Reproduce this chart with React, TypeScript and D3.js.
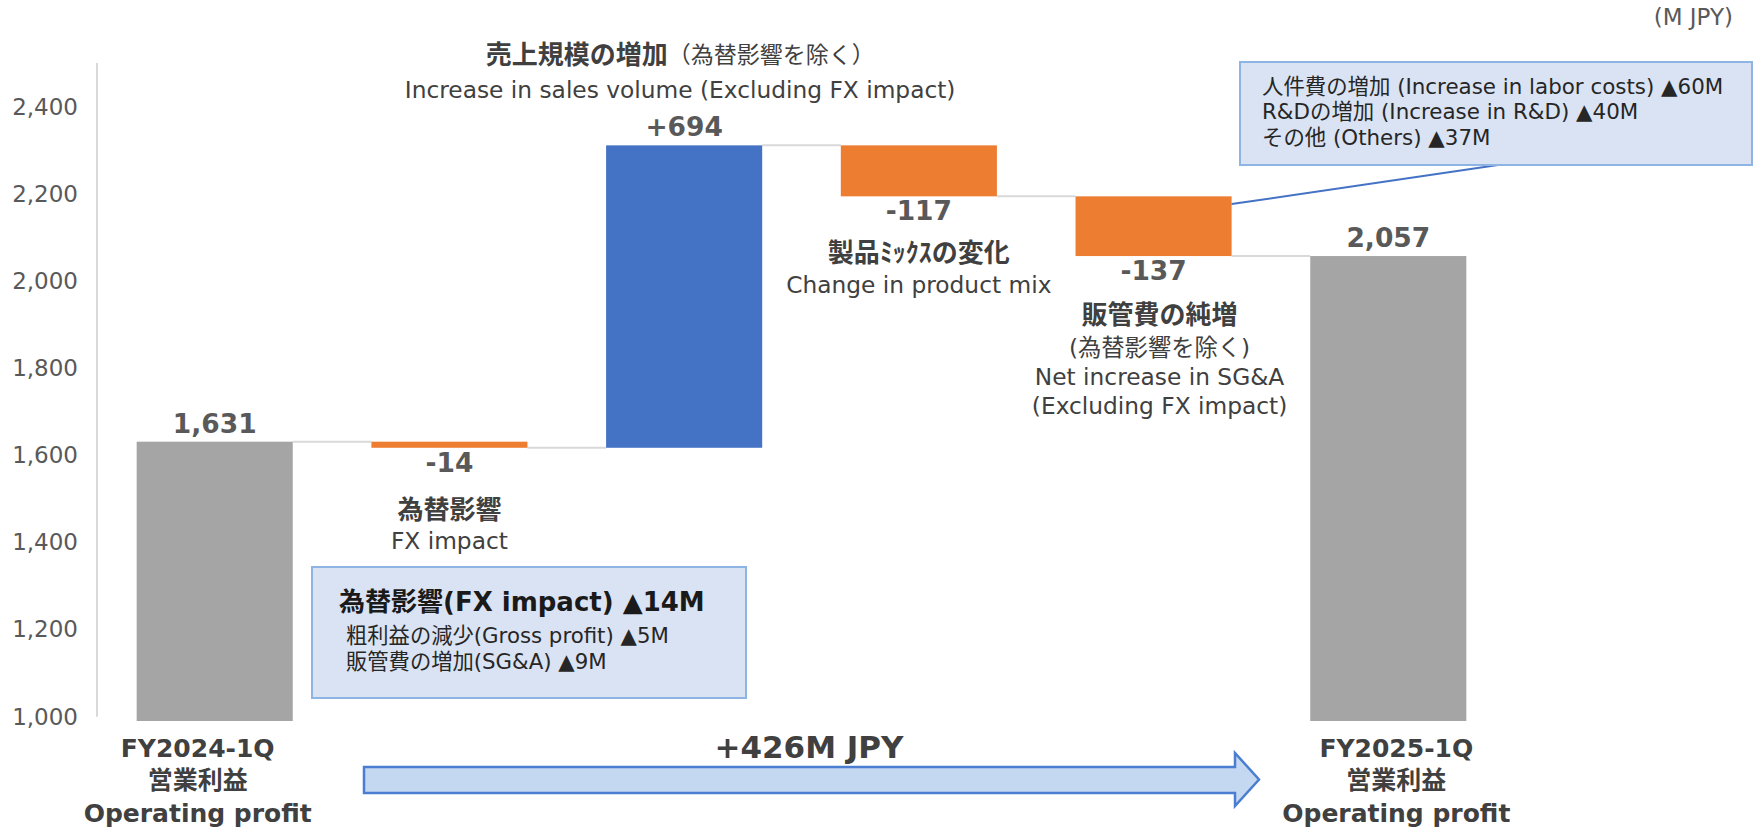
import React from "react";
import * as d3 from "d3";

const W = 1754;
const H = 829;
const FONT = "'DejaVu Sans', 'Noto Sans CJK JP', sans-serif";

// waterfall data (M JPY)
const categories = ["FY2024-1Q", "fx", "volume", "mix", "sga", "FY2025-1Q"];
const values = [1631, -14, 694, -117, -137, 2057];
const isTotal = [true, false, false, false, false, true];
const yTicks = [1000, 1200, 1400, 1600, 1800, 2000, 2200, 2400];

// text content
const unitLabel = "(M JPY)";
const changeLabel = "+426M JPY";
const startLabel = ["FY2024-1Q", "営業利益", "Operating profit"];
const endLabel = ["FY2025-1Q", "営業利益", "Operating profit"];
const volumeNote = ["売上規模の増加", "（為替影響を除く）", "Increase in sales volume (Excluding FX impact)"];
const fxNote = ["為替影響", "FX impact"];
const mixNote = ["製品ﾐｯｸｽの変化", "Change in product mix"];
const sgaNote = ["販管費の純増", "(為替影響を除く)", "Net increase in SG&A", "(Excluding FX impact)"];
const fxBox = ["為替影響(FX impact) ▲14M", "粗利益の減少(Gross profit) ▲5M", "販管費の増加(SG&A) ▲9M"];
const sgaBox = [
  "人件費の増加 (Increase in labor costs) ▲60M",
  "R&Dの増加 (Increase in R&D) ▲40M",
  "その他 (Others) ▲37M",
];

const GRAY = "#a5a5a5";
const BLUE = "#4472c4";
const ORANGE = "#ed7d31";

export default function App() {
  const x = d3
    .scaleBand()
    .domain(categories)
    .range([97, 1506])
    .paddingInner(0.335)
    .paddingOuter(0.169);
  const y = d3.scaleLinear().domain([990, 2500]).range([721, 63]);
  const bw = x.bandwidth();

  // build the floating bars
  let running = 0;
  const bars = categories.map((c, i) => {
    const v = values[i];
    let lo, hi, after;
    if (isTotal[i]) {
      lo = y.domain()[0];
      hi = v;
      after = v;
    } else {
      const start = running;
      after = running + v;
      lo = Math.min(start, after);
      hi = Math.max(start, after);
    }
    running = after;
    const color = isTotal[i] ? GRAY : v >= 0 ? BLUE : ORANGE;
    const label = isTotal[i] ? d3.format(",")(v) : (v > 0 ? "+" : "") + v;
    return { c, v, lo, hi, after, color, label, total: isTotal[i] };
  });

  const cx = (c) => (x(c) as number) + bw / 2;
  const sgaBar = bars[4];

  return (
    <div style={{ position: "fixed", left: 0, top: 0 }}>
      <svg width={W} height={H} style={{ display: "block", background: "#fff" }} fontFamily={FONT}>
        {/* unit */}
        <text x={1733} y={17} textAnchor="end" dominantBaseline="central" fontSize={23} fill="#595959">
          {unitLabel}
        </text>

        {/* y axis */}
        <line x1={97} x2={97} y1={y(2500)} y2={y(1000)} stroke="#d9d9d9" strokeWidth={2} />
        {yTicks.map((t) => (
          <text key={t} x={78} y={y(t)} textAnchor="end" dominantBaseline="central" fontSize={23} fill="#595959">
            {d3.format(",")(t)}
          </text>
        ))}

        {/* connectors */}
        {bars.slice(0, -1).map((b, i) => (
          <line
            key={"c" + i}
            x1={(x(b.c) as number) + bw}
            x2={x(bars[i + 1].c) as number}
            y1={y(b.after)}
            y2={y(b.after)}
            stroke="#d9d9d9"
            strokeWidth={2}
          />
        ))}

        {/* bars */}
        {bars.map((b) => (
          <rect key={b.c} x={x(b.c)} y={y(b.hi)} width={bw} height={y(b.lo) - y(b.hi)} fill={b.color} />
        ))}

        {/* value labels */}
        {bars.map((b) => (
          <text
            key={"v" + b.c}
            x={cx(b.c)}
            y={b.total || b.v > 0 ? y(b.hi) - 9 : y(b.lo) + 24}
            textAnchor="middle"
            fontSize={26.5}
            fontWeight="bold"
            fill="#595959"
          >
            {b.label}
          </text>
        ))}

        {/* category labels */}
        {[
          { lines: startLabel, c: categories[0], dx: -17 },
          { lines: endLabel, c: categories[5], dx: 8 },
        ].map((g) =>
          g.lines.map((s, j) => (
            <text
              key={g.c + j}
              x={cx(g.c) + g.dx}
              y={748 + j * 32.5}
              textAnchor="middle"
              dominantBaseline="central"
              fontSize={25}
              fontWeight="bold"
              fill="#404040"
            >
              {s}
            </text>
          ))
        )}

        {/* change arrow */}
        <path
          d={d3.line()([
            [364, 767],
            [1235, 767],
            [1235, 753],
            [1259, 779.5],
            [1235, 806],
            [1235, 793],
            [364, 793],
          ]) + "Z"}
          fill="#c5d8f1"
          stroke="#4a7ed0"
          strokeWidth={2.5}
        />
        <text x={809} y={747} textAnchor="middle" dominantBaseline="central" fontSize={31} fontWeight="bold" fill="#404040">
          {changeLabel}
        </text>

        {/* volume note */}
        <text x={cx("volume") - 4} y={55} textAnchor="middle" dominantBaseline="central" fill="#404040">
          <tspan fontSize={26} fontWeight="bold">{volumeNote[0]}</tspan>
          <tspan fontSize={23}>{volumeNote[1]}</tspan>
        </text>
        <text x={cx("volume") - 4} y={89} textAnchor="middle" dominantBaseline="central" fontSize={23.3} fill="#404040">
          {volumeNote[2]}
        </text>

        {/* fx note */}
        <text x={cx("fx")} y={510} textAnchor="middle" dominantBaseline="central" fontSize={26} fontWeight="bold" fill="#404040">
          {fxNote[0]}
        </text>
        <text x={cx("fx")} y={540} textAnchor="middle" dominantBaseline="central" fontSize={23.3} fill="#404040">
          {fxNote[1]}
        </text>

        {/* mix note */}
        <text x={cx("mix")} y={253} textAnchor="middle" dominantBaseline="central" fontSize={26} fontWeight="bold" fill="#404040">
          {mixNote[0]}
        </text>
        <text x={cx("mix")} y={284} textAnchor="middle" dominantBaseline="central" fontSize={23.3} fill="#404040">
          {mixNote[1]}
        </text>

        {/* sga note */}
        {sgaNote.map((s, j) => (
          <text
            key={"s" + j}
            x={cx("sga") + 6}
            y={[315, 347, 376, 405][j]}
            textAnchor="middle"
            dominantBaseline="central"
            fontSize={j === 0 ? 26 : 23.3}
            fontWeight={j === 0 ? "bold" : "normal"}
            fill="#404040"
          >
            {s}
          </text>
        ))}

        {/* FX breakdown box */}
        <rect x={312} y={567} width={434} height={131} fill="#dae3f3" stroke="#8eb4e3" strokeWidth={2} />
        <text x={339} y={602} dominantBaseline="central" fontSize={26} fontWeight="bold" fill="#1a1a1a">
          {fxBox[0]}
        </text>
        {fxBox.slice(1).map((s, j) => (
          <text key={"fb" + j} x={346} y={635 + j * 26} dominantBaseline="central" fontSize={21.3} fill="#262626">
            {s}
          </text>
        ))}

        {/* SG&A breakdown box + leader */}
        <line
          x1={(x("sga") as number) + bw}
          y1={y(sgaBar.hi) + (y(sgaBar.lo) - y(sgaBar.hi)) * 0.13}
          x2={1498}
          y2={165}
          stroke={BLUE}
          strokeWidth={2}
        />
        <rect x={1240} y={62} width={512} height={103} fill="#dae3f3" stroke="#8eb4e3" strokeWidth={2} />
        {sgaBox.map((s, j) => (
          <text key={"sb" + j} x={1262} y={86 + j * 25.5} dominantBaseline="central" fontSize={21.4} fill="#262626">
            {s}
          </text>
        ))}
      </svg>
    </div>
  );
}
